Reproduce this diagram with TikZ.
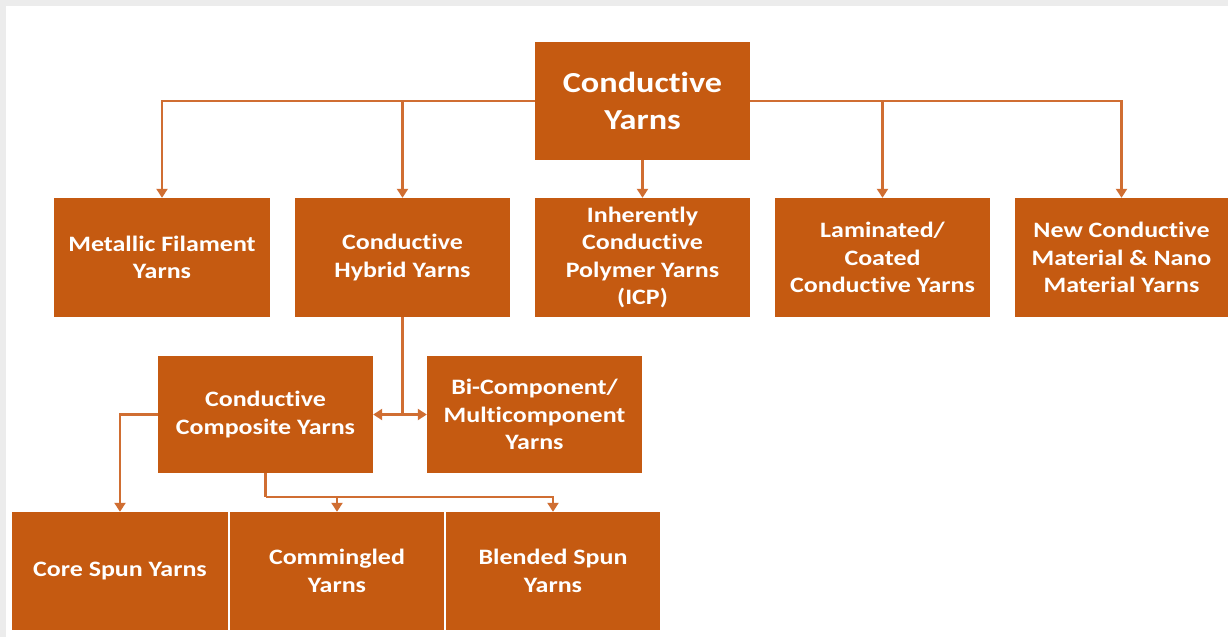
\documentclass[tikz,border=0pt]{standalone}
\usepackage{fontspec}
\setmainfont{Carlito}[FakeStretch=1.18, Ligatures=NoCommon]
\usetikzlibrary{arrows.meta,calc}
\definecolor{boxor}{RGB}{197,90,17}
\definecolor{lineor}{RGB}{208,110,50}
\definecolor{bggray}{RGB}{236,236,236}
\tikzset{
  box/.style={fill=boxor, draw=none, text=white, align=center, inner sep=0pt,
    font=\fontsize{22}{27.5}\selectfont\bfseries,
    minimum width=215pt, minimum height=118pt},
  bigbox/.style={box, font=\fontsize{29}{37}\selectfont\bfseries},
  conn/.style={draw=lineor, line width=2.2pt,
    -{Triangle[width=11pt,length=9pt]}},
  plain/.style={draw=lineor, line width=2.2pt}
}
\begin{document}
\begin{tikzpicture}[x=1pt,y=-1pt]
\useasboundingbox (0,0) rectangle (1228,637);
\fill[bggray] (0,0) rectangle (1228,637);
\fill[white] (6,6) rectangle (1228,637);

% nodes
\node[bigbox] (top) at (642.5,101) {Conductive\\Yarns};

\node[box, minimum width=216pt, minimum height=119pt] (metal) at (162,257.5) {Metallic Filament\\Yarns};
\node[box, minimum height=119pt] (hybrid) at (402.5,257.5) {Conductive\\Hybrid Yarns};
\node[box, minimum height=119pt] (icp) at (642.5,257.5) {Inherently\\Conductive\\Polymer Yarns\\(ICP)};
\node[box, minimum height=119pt] (lam) at (882.5,257.5) {Laminated/\\Coated\\Conductive Yarns};
\node[box, minimum width=213pt, minimum height=119pt] (new) at (1121.5,257.5) {New Conductive\\Material \& Nano\\Material Yarns};

\node[box, minimum height=117pt] (comp) at (265.5,414.5) {Conductive\\Composite Yarns};
\node[box, minimum height=117pt] (bicomp) at (534.5,414.5) {Bi-Component/\\Multicomponent\\Yarns};

\node[box, minimum width=216pt] (core) at (120,571) {Core Spun Yarns};
\node[box, minimum width=214pt] (comm) at (337,571) {Commingled\\Yarns};
\node[box, minimum width=214pt] (blend) at (553,571) {Blended Spun\\Yarns};

% connectors
\draw[conn] (top.west) -| (metal.north);
\draw[conn] (top.west) -| (hybrid.north);
\draw[conn] (top.south) -- (icp.north);
\draw[conn] (top.east) -| (lam.north);
\draw[conn] (top.east) -| (new.north);

\coordinate (hj) at (hybrid.south |- comp.east);
\draw[plain] (hybrid.south) -- (hj);
\draw[conn] (hj) -- (comp.east);
\draw[conn] (hj) -- (bicomp.west);

\draw[conn] (comp.west) -| (core.north);

\coordinate (cj) at ($(comp.south)+(0,24)$);
\draw[plain] (comp.south) -- (cj);
\draw[conn] (cj) -| (comm.north);
\draw[conn] (cj) -| (blend.north);
\end{tikzpicture}
\end{document}
